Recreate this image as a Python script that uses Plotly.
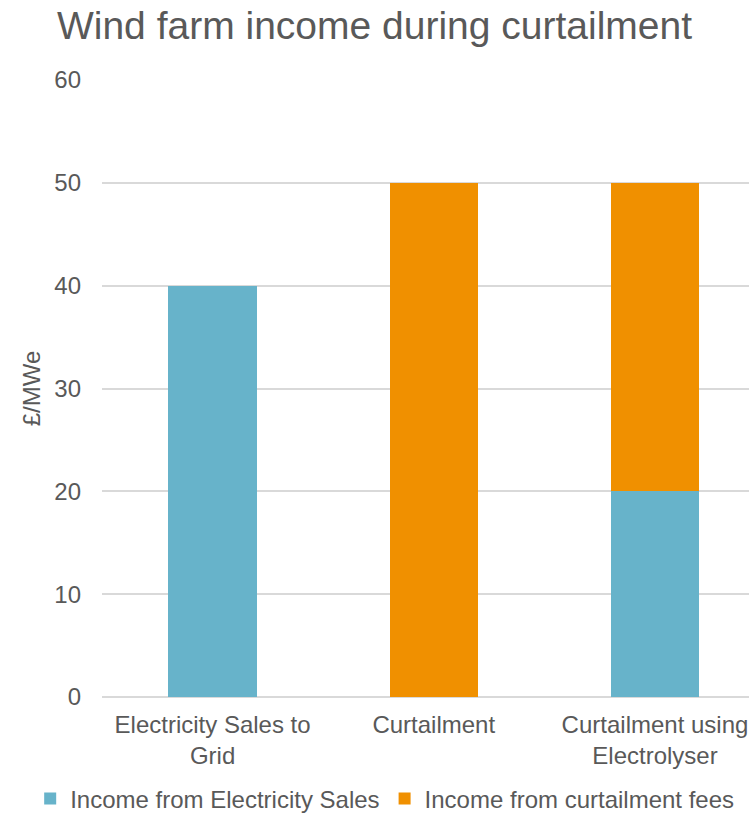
import plotly.graph_objects as go

categories = ["Electricity Sales to<br>Grid", "Curtailment", "Curtailment using<br>Electrolyser"]
electricity_sales = [40, 0, 20]
curtailment_fees = [0, 50, 30]

blue = "#67B3CA"
orange = "#F09000"
text_color = "#595959"
grid_color = "#D9D9D9"
font_family = "Liberation Sans"

fig = go.Figure()
fig.add_trace(go.Bar(
    x=categories, y=electricity_sales, name="Income from Electricity Sales",
    marker=dict(color=blue, line=dict(width=0)), width=0.4,
))
fig.add_trace(go.Bar(
    x=categories, y=curtailment_fees, name="Income from curtailment fees",
    marker=dict(color=orange, line=dict(width=0)), width=0.4,
))

fig.update_layout(
    barmode="stack",
    width=749, height=815,
    margin=dict(l=102, r=0, t=80, b=118, autoexpand=False),
    paper_bgcolor="white", plot_bgcolor="white",
    font=dict(family=font_family, color=text_color, size=24),
    title=dict(text="Wind farm income during curtailment", x=0.5, xref="container",
               xanchor="center", y=1 - 25 / 815, yanchor="middle",
               font=dict(family=font_family, size=39, color=text_color)),
    xaxis=dict(range=[-0.5, 2.425], showgrid=False, showline=False, ticks="",
               ticklabelstandoff=11,
               tickfont=dict(family=font_family, size=24, color=text_color)),
    yaxis=dict(range=[0, 60], dtick=10, showgrid=True, gridcolor=grid_color, gridwidth=1.5,
               zeroline=True, zerolinecolor=grid_color, zerolinewidth=1.5,
               showline=False, ticks="", ticklabelstandoff=20,
               tickfont=dict(family=font_family, size=24, color=text_color),
               title=dict(text="£/MWe", font=dict(family=font_family, size=24, color=text_color),
                          standoff=6)),
    legend=dict(orientation="h", xref="paper", yref="paper",
                x=-0.111, xanchor="left", y=(697 - 799) / 617, yanchor="middle",
                font=dict(family=font_family, size=24, color=text_color), itemwidth=30,
                traceorder="normal", tracegroupgap=0),
    bargap=0.6,
)

fig.write_html("out.html")
